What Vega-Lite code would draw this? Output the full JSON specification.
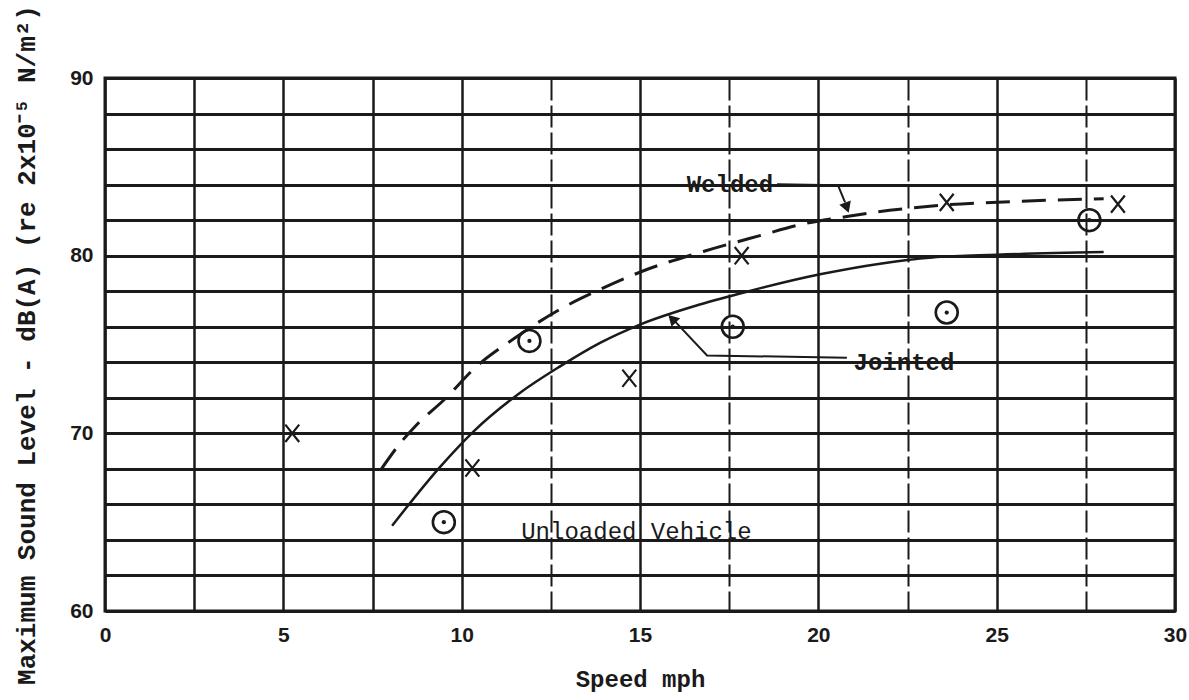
{
  "$schema": "https://vega.github.io/schema/vega-lite/v6.json",
  "width": 1070,
  "height": 533,
  "autosize": "none",
  "padding": {"left": 105, "top": 78, "right": 14, "bottom": 89},
  "background": "white",
  "config": {"view": {"stroke": "#1a1a1a", "strokeWidth": 3}, "font": "Liberation Mono"},
  "datasets": {
    "jointed": [
      {"speed": 8.05, "level": 64.8}, {"speed": 9.39, "level": 68.1}, {"speed": 10.33, "level": 70.1},
      {"speed": 11.63, "level": 72.27}, {"speed": 12.76, "level": 73.77}, {"speed": 13.88, "level": 75.09},
      {"speed": 15.0, "level": 76.12}, {"speed": 16.68, "level": 77.25}, {"speed": 18.05, "level": 78.0},
      {"speed": 20.05, "level": 78.95}, {"speed": 23.2, "level": 79.9}, {"speed": 25.0, "level": 80.05},
      {"speed": 28.0, "level": 80.2}
    ],
    "welded": [
      {"speed": 7.75, "level": 68.0}, {"speed": 8.3, "level": 69.5}, {"speed": 8.7, "level": 70.4},
      {"speed": 9.53, "level": 71.93}, {"speed": 10.37, "level": 73.68}, {"speed": 11.49, "level": 75.36},
      {"speed": 12.71, "level": 76.93}, {"speed": 13.88, "level": 78.1}, {"speed": 15.1, "level": 79.15},
      {"speed": 16.8, "level": 80.25}, {"speed": 18.4, "level": 81.15}, {"speed": 19.5, "level": 81.75},
      {"speed": 20.8, "level": 82.2}, {"speed": 22.0, "level": 82.55}, {"speed": 23.2, "level": 82.8},
      {"speed": 25.5, "level": 83.05}, {"speed": 28.0, "level": 83.2}
    ],
    "xpts": [
      {"speed": 5.25, "level": 70.0}, {"speed": 10.3, "level": 68.05}, {"speed": 14.7, "level": 73.1},
      {"speed": 17.85, "level": 80.0}, {"speed": 23.6, "level": 83.0}, {"speed": 28.4, "level": 82.9}
    ],
    "opts": [
      {"speed": 9.5, "level": 65.0}, {"speed": 11.9, "level": 75.2}, {"speed": 17.6, "level": 76.0},
      {"speed": 23.6, "level": 76.8}, {"speed": 27.6, "level": 82.0}
    ],
    "leaders": [
      {"g": "w", "i": 1, "speed": 18.84, "level": 84.02}, {"g": "w", "i": 2, "speed": 20.55, "level": 83.97},
      {"g": "w", "i": 3, "speed": 20.75, "level": 83.0},
      {"g": "j", "i": 1, "speed": 20.8, "level": 74.26}, {"g": "j", "i": 2, "speed": 16.88, "level": 74.38},
      {"g": "j", "i": 3, "speed": 15.98, "level": 76.3}
    ],
    "arrowW": [{"speed": 20.8, "level": 82.7}],
    "arrowJ": [{"speed": 15.9, "level": 76.45}],
    "boldLabels": [
      {"speed": 17.52, "level": 83.97, "label": "Welded"},
      {"speed": 22.4, "level": 73.98, "label": "Jointed"}
    ],
    "plainLabels": [
      {"speed": 14.9, "level": 64.45, "label": "Unloaded Vehicle"}
    ]
  },
  "layer": [
    {
      "data": {"name": "jointed"},
      "mark": {"type": "line", "color": "#1a1a1a", "strokeWidth": 2.5, "interpolate": "monotone"},
      "encoding": {
        "x": {
          "field": "speed", "type": "quantitative",
          "scale": {"domain": [0, 30], "nice": false},
          "axis": {
            "values": [0, 2.5, 5, 7.5, 10, 12.5, 15, 17.5, 20, 22.5, 25, 27.5, 30],
            "tickCount": 60,
            "format": "d",
            "labelExpr": "datum.value % 5 == 0 ? datum.label : ''",
            "grid": true, "gridColor": "#1a1a1a", "gridOpacity": 1,
            "gridWidth": {"condition": {"test": "datum.value > 10 && datum.value % 5 != 0", "value": 2}, "value": 2.5},
            "gridDash": {"condition": {"test": "datum.value > 10 && datum.value % 5 != 0", "value": [22, 5]}, "value": []},
            "ticks": false, "domain": false,
            "labelFont": "Liberation Sans", "labelFontWeight": "bold", "labelFontSize": 21, "labelColor": "#1a1a1a",
            "labelPadding": 13, "labelFlush": false, "labelOverlap": false,
            "title": "Speed mph", "titleFont": "Liberation Mono", "titleFontWeight": "bold",
            "titleFontSize": 24, "titleColor": "#1a1a1a", "titlePadding": 22
          }
        },
        "y": {
          "field": "level", "type": "quantitative",
          "scale": {"domain": [60, 90], "nice": false, "zero": false},
          "axis": {
            "values": [60, 62, 64, 66, 68, 70, 72, 74, 76, 78, 80, 82, 84, 86, 88, 90],
            "tickCount": 60,
            "format": "d",
            "labelExpr": "datum.value % 10 == 0 ? datum.label : ''",
            "grid": true, "gridColor": "#1a1a1a", "gridOpacity": 1, "gridWidth": 3,
            "ticks": false, "domain": false,
            "labelFont": "Liberation Sans", "labelFontWeight": "bold", "labelFontSize": 21, "labelColor": "#1a1a1a",
            "labelPadding": 12, "labelOverlap": false,
            "title": "Maximum Sound Level - dB(A)  (re 2x10⁻⁵ N/m²)",
            "titleFont": "Liberation Mono", "titleFontWeight": "bold",
            "titleFontSize": 26, "titleColor": "#1a1a1a", "titlePadding": 30
          }
        }
      }
    },
    {
      "data": {"name": "welded"},
      "mark": {"type": "line", "color": "#1a1a1a", "strokeWidth": 3, "strokeDash": [24, 12], "interpolate": "monotone"},
      "encoding": {
        "x": {"field": "speed", "type": "quantitative"},
        "y": {"field": "level", "type": "quantitative"}
      }
    },
    {
      "data": {"name": "leaders"},
      "mark": {"type": "line", "color": "#1a1a1a", "strokeWidth": 2},
      "encoding": {
        "x": {"field": "speed", "type": "quantitative"},
        "y": {"field": "level", "type": "quantitative"},
        "detail": {"field": "g"},
        "order": {"field": "i"}
      }
    },
    {
      "data": {"name": "arrowW"},
      "mark": {"type": "point", "shape": "triangle-down", "filled": true, "color": "#1a1a1a", "size": 150, "angle": 340, "opacity": 1},
      "encoding": {
        "x": {"field": "speed", "type": "quantitative"},
        "y": {"field": "level", "type": "quantitative"}
      }
    },
    {
      "data": {"name": "arrowJ"},
      "mark": {"type": "point", "shape": "triangle-up", "filled": true, "color": "#1a1a1a", "size": 150, "angle": 315, "opacity": 1},
      "encoding": {
        "x": {"field": "speed", "type": "quantitative"},
        "y": {"field": "level", "type": "quantitative"}
      }
    },
    {
      "data": {"name": "xpts"},
      "mark": {"type": "point", "shape": "M -0.8 -1 L 0.8 1 M -0.8 1 L 0.8 -1", "filled": false, "color": "#1a1a1a", "size": 300, "strokeWidth": 2.2, "opacity": 1},
      "encoding": {
        "x": {"field": "speed", "type": "quantitative"},
        "y": {"field": "level", "type": "quantitative"}
      }
    },
    {
      "data": {"name": "opts"},
      "mark": {"type": "point", "shape": "circle", "filled": false, "color": "#1a1a1a", "size": 480, "strokeWidth": 2.6, "opacity": 1},
      "encoding": {
        "x": {"field": "speed", "type": "quantitative"},
        "y": {"field": "level", "type": "quantitative"}
      }
    },
    {
      "data": {"name": "opts"},
      "mark": {"type": "point", "shape": "circle", "filled": true, "color": "#1a1a1a", "size": 18, "opacity": 1},
      "encoding": {
        "x": {"field": "speed", "type": "quantitative"},
        "y": {"field": "level", "type": "quantitative"}
      }
    },
    {
      "data": {"name": "boldLabels"},
      "mark": {"type": "text", "font": "Liberation Mono", "fontWeight": "bold", "fontSize": 24, "color": "#1a1a1a", "align": "center", "baseline": "middle"},
      "encoding": {
        "x": {"field": "speed", "type": "quantitative"},
        "y": {"field": "level", "type": "quantitative"},
        "text": {"field": "label"}
      }
    },
    {
      "data": {"name": "plainLabels"},
      "mark": {"type": "text", "font": "Liberation Mono", "fontSize": 24, "color": "#1a1a1a", "align": "center", "baseline": "middle"},
      "encoding": {
        "x": {"field": "speed", "type": "quantitative"},
        "y": {"field": "level", "type": "quantitative"},
        "text": {"field": "label"}
      }
    }
  ]
}
